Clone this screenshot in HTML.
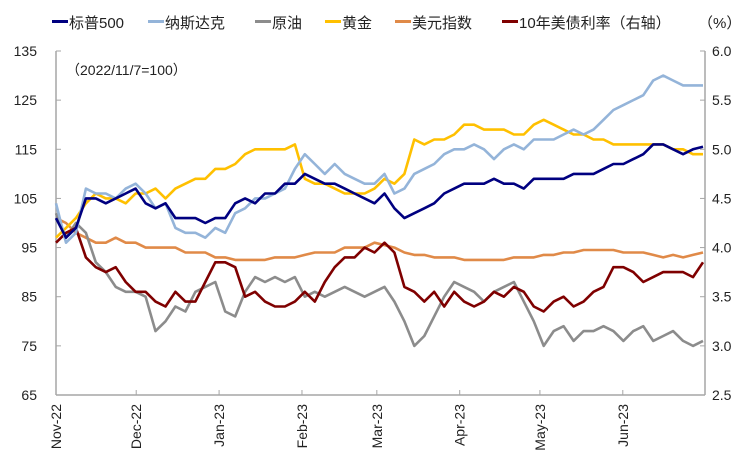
<!DOCTYPE html>
<html><head><meta charset="utf-8"><style>
body{margin:0;background:#fff;}
svg text{font-family:"Liberation Sans","Noto Sans CJK SC",sans-serif;}
</style></head><body>
<svg id="chart" width="746" height="467" viewBox="0 0 746 467" xmlns="http://www.w3.org/2000/svg">
<g id="legend"></g>
<text x="66" y="75" font-size="14" fill="#222">（2022/11/7=100）</text>
<g id="axes"></g>
<g id="series"></g>
</svg>
<script>
const monthLabels=["Nov-22","Dec-22","Jan-23","Feb-23","Mar-23","Apr-23","May-23","Jun-23"];
const monthPos=[0,30,61,92,120,151,181,212];
const leftTicks=[65,75,85,95,105,115,125,135];
const rightTicks=["2.5","3.0","3.5","4.0","4.5","5.0","5.5","6.0"];
const spx=[101,97,99,105,105,104,105,106,107,104,103,104,101,101,101,100,101,101,104,105,104,106,106,108,108,110,109,108,108,107,106,105,104,106,103,101,102,103,104,106,107,108,108,108,109,108,108,107,109,109,109,109,110,110,110,111,112,112,113,114,116,116,115,114,115,115.5];
const ndx=[104,96,98,107,106,106,105,107,108,106,103,104,99,98,98,97,99,98,102,103,105,105,106,107,111,114,112,110,112,110,109,108,108,110,106,107,110,111,112,114,115,115,116,115,113,115,116,115,117,117,117,118,119,118,119,121,123,124,125,126,129,130,129,128,128,128];
const oil=[102,97,100,98,92,90,87,86,86,85,78,80,83,82,86,87,88,82,81,86,89,88,89,88,89,85,86,85,86,87,86,85,86,87,84,80,75,77,81,85,88,87,86,84,86,87,88,84,80,75,78,79,76,78,78,79,78,76,78,79,76,77,78,76,75,76];
const gold=[97,99,101,104,106,105,105,104,106,106,107,105,107,108,109,109,111,111,112,114,115,115,115,115,116,109,108,108,107,106,106,106,107,109,108,110,117,116,117,117,118,120,120,119,119,119,118,118,120,121,120,119,118,118,117,117,116,116,116,116,116,116,115,115,114,114];
const dxy=[101,100,98,97,96,96,97,96,96,95,95,95,95,94,94,94,93,93,92.5,92.5,92.5,92.5,93,93,93,93.5,94,94,94,95,95,95,96,95.5,95,94,93.5,93.5,93,93,93,92.5,92.5,92.5,92.5,92.5,93,93,93,93.5,93.5,94,94,94.5,94.5,94.5,94.5,94,94,94,93.5,93,93.5,93,93.5,94];
const ust10=[4.05,4.15,4.2,3.9,3.8,3.75,3.8,3.65,3.55,3.55,3.45,3.4,3.55,3.45,3.45,3.65,3.85,3.85,3.8,3.5,3.55,3.45,3.4,3.4,3.45,3.55,3.45,3.65,3.8,3.9,3.9,4.0,3.95,4.05,3.95,3.6,3.55,3.45,3.55,3.4,3.55,3.45,3.4,3.45,3.55,3.5,3.6,3.55,3.4,3.35,3.45,3.5,3.4,3.45,3.55,3.6,3.8,3.8,3.75,3.65,3.7,3.75,3.75,3.75,3.7,3.85];
const NS="http://www.w3.org/2000/svg";
const X0=56,X1=703,Y0=395,Y1=51;
const totalDays=242;
function xDay(d){return X0+(X1-X0)*d/totalDays;}
function xIdx(i,n){return X0+(X1-X0)*i/(n-1);}
function yL(v){return Y0-(v-65)/70*(Y0-Y1);}
function yR(v){return Y0-(v-2.5)/3.5*(Y0-Y1);}
function mk(tag,attrs,parent){const e=document.createElementNS(NS,tag);for(const k in attrs)e.setAttribute(k,attrs[k]);parent.appendChild(e);return e;}
const axes=document.getElementById('axes');
const ax="#a6a6a6";
let e;
e=mk('line',{x1:X0,y1:Y1,x2:X0,y2:Y0,stroke:ax,'stroke-width':1.5},axes);

e=mk('line',{x1:705,y1:Y1,x2:705,y2:Y0,stroke:ax,'stroke-width':1.5},axes);

e=mk('line',{x1:X0,y1:Y0,x2:705,y2:Y0,stroke:ax,'stroke-width':1.5},axes);

leftTicks.forEach(v=>{const y=yL(v);
mk('line',{x1:X0,y1:y,x2:X0+5,y2:y,stroke:ax,'stroke-width':1},axes);
const t=mk('text',{x:37,y:y+5,'text-anchor':'end','font-size':14,fill:'#222'},axes);t.textContent=v;
});
rightTicks.forEach(v=>{const y=yR(parseFloat(v));
mk('line',{x1:700,y1:y,x2:705,y2:y,stroke:ax,'stroke-width':1},axes);
const t=mk('text',{x:712,y:y+5,'text-anchor':'start','font-size':14,fill:'#222'},axes);t.textContent=v;
});
monthLabels.forEach((m,i)=>{const x=xDay(monthPos[i]);
mk('line',{x1:x,y1:Y0,x2:x,y2:Y0-5,stroke:ax,'stroke-width':1},axes);
const t=mk('text',{x:0,y:0,'text-anchor':'end','font-size':14,fill:'#222',transform:`translate(${x+5},404) rotate(-90)`},axes);t.textContent=m;
});
const ser=document.getElementById('series');
function line(arr,yf,color,name){const n=arr.length;const d=arr.map((v,i)=>(i?'L':'M')+xIdx(i,n).toFixed(1)+' '+yf(v).toFixed(1)).join(' ');
const p=mk('path',{d:d,fill:'none',stroke:color,'stroke-width':2.6,'stroke-linejoin':'round'},ser);
}
line(dxy,yL,'#e08a48','dxy-line');
line(oil,yL,'#8c8c8c','oil-line');
line(ust10,yR,'#7f0000','ust10-line');
line(gold,yL,'#ffc000','gold-line');
line(ndx,yL,'#94b4d9','nasdaq-line');
line(spx,yL,'#000080','spx-line');
const lg=document.getElementById('legend');
const items=[["标普500","#000080",52],["纳斯达克","#94b4d9",148],["原油","#8c8c8c",255],["黄金","#ffc000",325],["美元指数","#e08a48",395],["10年美债利率（右轴）","#7f0000",502]];
items.forEach(it=>{
const r=mk('rect',{x:it[2],y:20,width:16,height:3,fill:it[1]},lg);

const t=mk('text',{x:it[2]+17,y:28,'font-size':15,fill:'#222'},lg);t.textContent=it[0];
});
const pc=mk('text',{x:698,y:28,'font-size':15,fill:'#222'},lg);pc.textContent="（%）";

</script>
</body></html>
